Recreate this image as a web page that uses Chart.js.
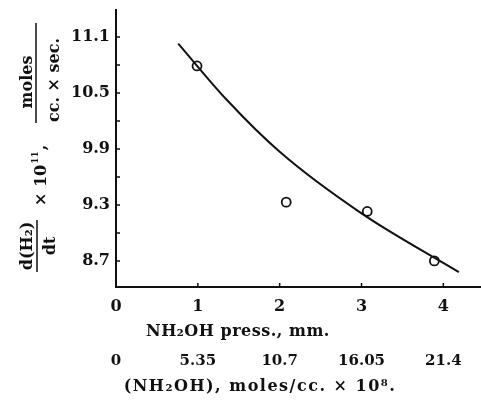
<!DOCTYPE html>
<html>
<head>
<meta charset="utf-8">
<script src="https://cdn.jsdelivr.net/npm/chart.js@4.4.1/dist/chart.umd.min.js"></script>
<style>
  body { margin: 0; background: #fff; }
</style>
</head>
<body>
<canvas id="rateChart" width="481" height="400"></canvas>
<script>
// points mesurés
const pressure = [0.99, 2.08, 3.07, 3.89];
const rate = [10.79, 9.33, 9.23, 8.70];

// courbe tracée à la main
const curvePress = [0.76, 1.35, 2.0, 3.0, 4.19];
const curveRate = [11.03, 10.43, 9.87, 9.21, 8.58];

// graduations
const pressTicks = [0, 1, 2, 3, 4];
const concLabels = ["0", "5.35", "10.7", "16.05", "21.4"];
const rateTicks = [8.7, 9.3, 9.9, 10.5, 11.1];
const rateMarks = [8.7, 9.0, 9.3, 9.6, 9.9, 10.2, 10.5, 10.8, 11.1];
const pressMarks = [1, 2, 3, 4];

const ink = "#111";
const serif = "'DejaVu Serif', serif";

// pas de marge automatique autour des axes
function noPadding(s) {
    s.paddingLeft = 0; s.paddingRight = 0;
    s.paddingTop = 0; s.paddingBottom = 0;
}

// petites graduations vers l'intérieur + titres des axes
const decorations = {
    id: "decorations",
    afterDraw(chart) {
        const c = chart.ctx;
        const x = chart.scales.x, y = chart.scales.y;
        const area = chart.chartArea;
        c.save();
        c.strokeStyle = ink;
        c.lineWidth = 1.5;
        c.beginPath();
        rateMarks.forEach(v => {
            const py = y.getPixelForValue(v);
            c.moveTo(area.left, py);
            c.lineTo(area.left + 4, py);
        });
        pressMarks.forEach(v => {
            const px = x.getPixelForValue(v);
            c.moveTo(px, area.bottom);
            c.lineTo(px, area.bottom - 4);
        });
        c.stroke();

        c.fillStyle = ink;
        c.textAlign = "center";
        c.textBaseline = "middle";
        c.font = "bold 16px " + serif;
        c.letterSpacing = "0.5px";
        c.fillText("NH₂OH press., mm.", area.left + 122, 332);
        c.letterSpacing = "1.5px";
        c.fillText("(NH₂OH), moles/cc. × 10⁸.", area.left + 144, 387);
        c.letterSpacing = "0px";

        // titre vertical avec fractions
        c.translate(0, 400);
        c.rotate(-Math.PI / 2);
        c.textBaseline = "alphabetic";
        c.font = "bold 16px " + serif;
        c.fillText("d(H₂)", 154, 32);
        c.fillText("dt", 154, 55);
        c.fillText("moles", 318, 32);
        c.fillText("cc. × sec.", 320, 59);

        c.textAlign = "left";
        const u0 = 194;
        c.fillText("× 10", u0, 46);
        const w = c.measureText("× 10").width;
        c.font = "bold 9px " + serif;
        c.fillText("11", u0 + w + 1, 38);
        const w2 = c.measureText("11").width;
        c.font = "bold 16px " + serif;
        c.fillText(",", u0 + w + w2 + 2, 46);

        c.beginPath();
        c.lineWidth = 1.5;
        c.moveTo(128, 37); c.lineTo(180, 37);
        c.moveTo(277, 36); c.lineTo(377, 36);
        c.stroke();
        c.restore();
    }
};

new Chart(document.getElementById("rateChart"), {
    data: {
        datasets: [
            {
                type: "line",
                data: curvePress.map((p, i) => ({ x: p, y: curveRate[i] })),
                borderColor: ink,
                borderWidth: 2,
                pointRadius: 0,
                cubicInterpolationMode: "monotone",
                fill: false
            },
            {
                type: "scatter",
                data: pressure.map((p, i) => ({ x: p, y: rate[i] })),
                borderColor: ink,
                backgroundColor: "rgba(255,255,255,0)",
                borderWidth: 1.8,
                pointRadius: 4.5
            }
        ]
    },
    options: {
        responsive: false,
        animation: false,
        layout: { autoPadding: false, padding: { top: 10, right: 0, left: 0, bottom: 0 } },
        plugins: { legend: { display: false }, tooltip: { enabled: false } },
        scales: {
            x: {
                type: "linear",
                position: "bottom",
                min: 0,
                max: 4.46,
                afterBuildTicks: s => { s.ticks = pressTicks.map(v => ({ value: v })); },
                afterFit: s => { s.height = 58; noPadding(s); },
                grid: { display: false, drawTicks: false },
                border: { display: true, color: ink, width: 2 },
                ticks: { color: ink, padding: 10, maxRotation: 0, font: { family: serif, size: 16, weight: "bold" } }
            },
            x2: {
                type: "linear",
                position: "bottom",
                min: 0,
                max: 4.46,
                afterBuildTicks: s => { s.ticks = pressTicks.map(v => ({ value: v })); },
                afterFit: s => { s.height = 55; noPadding(s); },
                grid: { display: false, drawTicks: false },
                border: { display: false },
                ticks: {
                    color: ink, padding: 7, maxRotation: 0,
                    font: { family: serif, size: 15, weight: "bold" },
                    callback: (v, i) => concLabels[i]
                }
            },
            y: {
                type: "linear",
                min: 8.42,
                max: 11.39,
                afterBuildTicks: s => { s.ticks = rateTicks.map(v => ({ value: v })); },
                afterFit: s => { s.width = 116; noPadding(s); },
                grid: { display: false, drawTicks: false },
                border: { display: true, color: ink, width: 2 },
                ticks: {
                    color: ink, padding: 6,
                    font: { family: serif, size: 16, weight: "bold" },
                    callback: v => v.toFixed(1)
                }
            }
        }
    },
    plugins: [decorations]
});
</script>
</body>
</html>
